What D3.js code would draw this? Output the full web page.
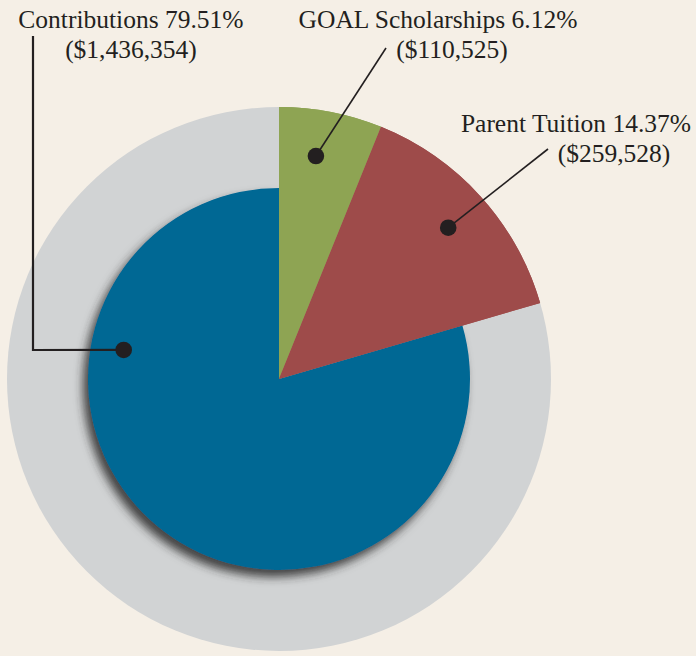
<!DOCTYPE html>
<html>
<head>
<meta charset="utf-8">
<script src="https://cdn.jsdelivr.net/npm/d3@7"></script>
<style>
  html, body { margin: 0; padding: 0; background: #f5efe6; }
  svg { display: block; }
  .lbl { font-family: "Liberation Serif", "DejaVu Serif", serif; font-size: 25.5px; fill: #231f20; }
</style>
</head>
<body>
<script>
var width = 696;
var height = 656;

// data
var categories = ['GOAL Scholarships', 'Parent Tuition', 'Contributions'];
var percents = [6.12, 14.37, 79.51];
var amounts = ['$110,525', '$259,528', '$1,436,354'];
var colors = ['#8ea453', '#9e4b4a', '#006794'];

var cx = 279, cy = 379;
var outerR = 272;
var innerR = 191; // the contributions slice sits inside the gray ring

var svg = d3.select('body').append('svg')
  .attr('width', width)
  .attr('height', height);

var defs = svg.append('defs');
var f = defs.append('filter')
  .attr('id', 'shadow')
  .attr('x', '-20%').attr('y', '-20%')
  .attr('width', '140%').attr('height', '140%');
f.append('feDropShadow')
  .attr('dx', -5).attr('dy', 7)
  .attr('stdDeviation', 5)
  .attr('flood-color', '#2a2a2a')
  .attr('flood-opacity', 0.85);

var g = svg.append('g').attr('transform', 'translate(' + cx + ',' + cy + ')');

// gray backdrop ring
g.append('circle')
  .attr('r', outerR)
  .attr('fill', '#d1d3d4');

var pie = d3.pie().sort(null).value(function (d) { return d; });
var arcs = pie(percents);

var arc = d3.arc()
  .innerRadius(0)
  .outerRadius(function (d) { return d.index === 2 ? innerR : outerR; });

g.selectAll('path.slice')
  .data(arcs)
  .enter()
  .append('path')
  .attr('class', 'slice')
  .attr('d', arc)
  .attr('fill', function (d, i) { return colors[i]; })
  .attr('filter', function (d) { return d.index === 2 ? 'url(#shadow)' : null; });

// redraw the small slices on top so the shadow doesn't fall over them
g.selectAll('path.top')
  .data(arcs.slice(0, 2))
  .enter()
  .append('path')
  .attr('class', 'top')
  .attr('d', arc)
  .attr('fill', function (d, i) { return colors[i]; });

// label layout: dot at (angle in deg, radius), leader path, text lines
var labels = [
  { i: 0, dotA: 9.4, dotR: 226, bend: null, end: [386, 48],
    lines: [{ x: 438, y: 28 }, { x: 452, y: 58 }] },
  { i: 1, dotA: 48.2, dotR: 227, bend: null, end: [548, 149],
    lines: [{ x: 576, y: 132 }, { x: 614, y: 162 }] },
  { i: 2, dotA: 280.6, dotR: 158, bend: [33, 350], end: [33, 36],
    lines: [{ x: 131, y: 28 }, { x: 131, y: 58 }] }
];

labels.forEach(function (l) {
  var p = d3.pointRadial(l.dotA * Math.PI / 180, l.dotR);
  var dot = [cx + p[0], cy + p[1]];
  var pts = [dot];
  if (l.bend) pts.push(l.bend);
  pts.push(l.end);

  svg.append('path')
    .attr('d', d3.line()(pts))
    .attr('fill', 'none')
    .attr('stroke', '#231f20')
    .attr('stroke-width', l.bend ? 2.2 : 1.6);

  svg.append('circle')
    .attr('cx', dot[0]).attr('cy', dot[1])
    .attr('r', 8.3)
    .attr('fill', '#231f20');

  svg.append('text')
    .attr('class', 'lbl')
    .attr('x', l.lines[0].x).attr('y', l.lines[0].y)
    .attr('text-anchor', 'middle')
    .text(categories[l.i] + ' ' + d3.format('.2f')(percents[l.i]) + '%');

  svg.append('text')
    .attr('class', 'lbl')
    .attr('x', l.lines[1].x).attr('y', l.lines[1].y)
    .attr('text-anchor', 'middle')
    .text('(' + amounts[l.i] + ')');
});
</script>
</body>
</html>
